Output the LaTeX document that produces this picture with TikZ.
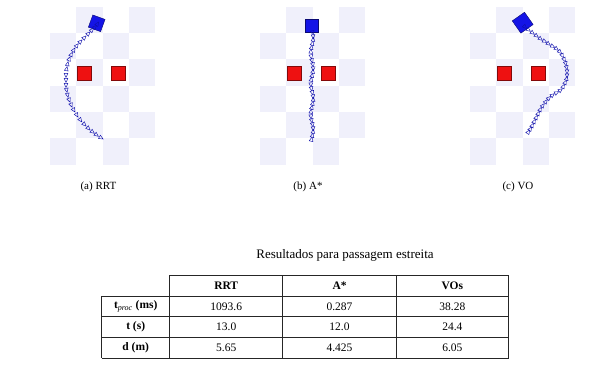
\documentclass[tikz,border=0pt]{standalone}
\usepackage{fontspec}
\setmainfont{Liberation Serif}
\usetikzlibrary{matrix,shapes.geometric}

\definecolor{cellgray}{HTML}{F0F0FB}
\definecolor{obsred}{HTML}{EE1111}
\definecolor{robotblue}{HTML}{1414E6}

\tikzset{
	obstacle/.style={fill=obsred, draw=obsred!55!black, line width=0.4pt, minimum size=14pt, inner sep=0pt},
	robot/.style={fill=robotblue, draw=robotblue!50!black, line width=0.4pt, inner sep=0pt},
	pose/.style={isosceles triangle, isosceles triangle stretches, draw=robotblue!75!black, line width=0.45pt,
		inner sep=0pt, minimum width=3.8pt, minimum height=4.2pt, sloped, midway},
	caption/.style={font=\fontsize{11}{13}\selectfont},
	tabline/.style={line width=0.8pt, black!85},
}

\begin{document}
\begin{tikzpicture}[x=1pt,y=-1pt]
	\useasboundingbox (0,0) rectangle (600,368);
	% boards with the two obstacles
	\foreach \bx in {50,260,470}{
		\foreach \i in {0,...,3}{
			\foreach \j in {0,...,5}{
				\pgfmathparse{int(mod(\i+\j,2))}
				\ifnum\pgfmathresult=1
					\fill[cellgray] (\bx+\i*26.3, 6.7+\j*26.3) rectangle ++(26.3,26.3);
				\fi
			}
		}
		\node[obstacle] (obs-\bx-1) at (\bx+33.8,73) {};
		\node[obstacle] (obs-\bx-2) at (\bx+68.5,73) {};
	}
	% robots
	\node[robot, minimum size=13pt, rotate=-20] (robA) at (96.7,23.3) {};
	\node[robot, minimum size=13pt] (robB) at (311.5,26) {};
	\node[robot, minimum size=15pt, rotate=35] (robC) at (522.7,22.7) {};
	% trajectories (RRT, A*, VO)
	\foreach \p/\q [count=\n] in {{96,26}/{98,23}, {93,29}/{96,26}, {90,32}/{93,29}, {86,36}/{90,32}, {82,40}/{86,36},
		{78,44}/{82,40}, {75,48}/{78,44}, {72,53}/{75,48}, {70,57}/{72,53}, {68,62}/{70,57}, {67,67}/{68,62},
		{66,72}/{67,67}, {66,77}/{66,72}, {66,82}/{66,77}, {66,87}/{66,82}, {67,92}/{66,87}, {68,97}/{67,92},
		{70,102}/{68,97}, {72,107}/{70,102}, {75,112}/{72,107}, {78,117}/{75,112}, {82,122}/{78,117},
		{86,126}/{82,122}, {90,130}/{86,126}, {94,133}/{90,130}, {98,136}/{94,133}, {103,139}/{98,136}}{
		\path (\q) -- (\p) node[pose] (poseA-\n) {};
	}
	\foreach \k in {0,...,27}{
		\path ({312+1.3*sin(\k*47)}, {30+4*\k}) -- ({312+1.3*sin((\k+1)*47)}, {34+4*\k}) node[pose] (poseB-\k) {};
	}
	\foreach \p/\q [count=\n] in {{526,28}/{523,25}, {530,31}/{526,28}, {534,34}/{530,31}, {538,37}/{534,34},
		{542,40}/{538,37}, {546,42}/{542,40}, {550,45}/{546,42}, {554,47}/{550,45}, {558,50}/{554,47},
		{561,53}/{558,50}, {563,57}/{561,53}, {565,61}/{563,57}, {566,65}/{565,61}, {567,69}/{566,65},
		{567,73}/{567,69}, {567,77}/{567,73}, {566,81}/{567,77}, {564,85}/{566,81}, {562,89}/{564,85},
		{558,92}/{562,89}, {554,94}/{558,92}, {550,97}/{554,94}, {547,100}/{550,97}, {544,104}/{547,100},
		{541,108}/{544,104}, {539,112}/{541,108}, {537,116}/{539,112}, {535,120}/{537,116},
		{533,124}/{535,120}, {531,128}/{533,124}, {529,131}/{531,128}, {527,134}/{529,131}}{
		\path (\q) -- (\p) node[pose] (poseC-\n) {};
	}
	% captions
	\node[caption] (capA) at (98.4,186.5) {(a) RRT};
	\node[caption] (capB) at (308,186.5) {(b) A*};
	\node[caption] (capC) at (518,186.5) {(c) VO};
	% results table
	\node[font=\fontsize{13}{15}\selectfont] (ttl) at (345,255) {Resultados para passagem estreita};
	\matrix (res) [matrix of nodes, anchor=north west, inner sep=0pt, column sep=0pt, row sep=0pt,
		nodes={anchor=center, minimum height=20.6pt, inner sep=0pt, font=\fontsize{11.5}{13}\selectfont},
		column 1/.style={nodes={minimum width=67.6pt}},
		column 2/.style={nodes={minimum width=113.4pt}},
		column 3/.style={nodes={minimum width=113.3pt}},
		column 4/.style={nodes={minimum width=112.3pt}}] at (101.7,275.5) {
		& \textbf{RRT} & \textbf{A*} & \textbf{VOs} \\
		\textbf{t}\textsubscript{\textit{proc}} \textbf{(ms)} & 1093.6 & 0.287 & 38.28 \\
		\textbf{t (s)} & 13.0 & 12.0 & 24.4 \\
		\textbf{d (m)} & 5.65 & 4.425 & 6.05 \\
	};
	\draw[tabline] (res-1-2.north west) -- (res-1-4.north east);
	\foreach \r in {2,3,4}{
		\draw[tabline] (res-\r-1.north west) -- (res-\r-4.north east);
	}
	\draw[tabline] (res-4-1.south west) -- (res-4-4.south east);
	\draw[tabline] (res-2-1.north west) -- (res-4-1.south west);
	\foreach \c in {2,3,4}{
		\draw[tabline] (res-1-\c.north west) -- (res-4-\c.south west);
	}
	\draw[tabline] (res-1-4.north east) -- (res-4-4.south east);
\end{tikzpicture}
\end{document}
